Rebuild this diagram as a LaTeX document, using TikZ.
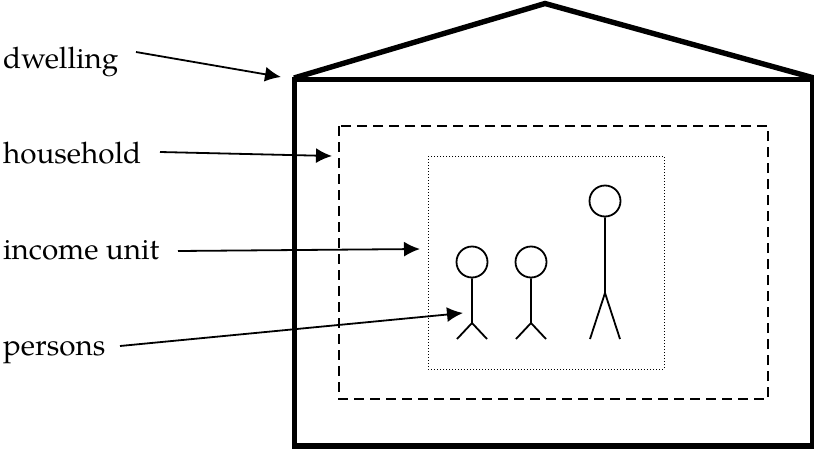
\documentclass[tikz,border=0pt]{standalone}
\usepackage{fontspec}
\setmainfont{TeX Gyre Pagella}
\usetikzlibrary{arrows.meta}
\tikzset{
  lbl/.style={anchor=base west,inner sep=0pt,font=\fontsize{29.6}{32}\selectfont},
  arr/.style={draw,line width=1.8pt,-{Latex[length=16pt,width=15pt]}},
  wall/.style={draw,line width=5.4pt,line cap=butt,line join=miter},
  fig/.style={draw,line width=1.8pt},
  head/.style={draw,circle,line width=1.8pt,minimum size=31pt,inner sep=0pt}
}
\begin{document}
\begin{tikzpicture}[x=1pt,y=-1pt]
\useasboundingbox (0,0) rectangle (814,450);
\begin{scope}
\clip (0,0) rectangle (814,450);
\draw[wall] (294.5,79.5) rectangle (813,446);
\draw[wall] (294,78) -- (545,3.5) -- (814,78);
\end{scope}
\draw[line width=1.6pt,dash pattern=on 10pt off 6pt] (339,126) rectangle (768,399);
\draw[line width=1pt,dash pattern=on 1.4pt off 1.6pt] (428,156) rectangle (664,369);
\node[head] (h1) at (472,262) {};
\node[head] (h2) at (531,262) {};
\node[head] (h3) at (605,201) {};
\draw[fig] (h1.south) -- (472,323) -- (457,339) (472,323) -- (487,339);
\draw[fig] (h2.south) -- (531,323) -- (516,339) (531,323) -- (546,339);
\draw[fig] (h3.south) -- (605,293) -- (590,339) (605,293) -- (620,339);
\node[lbl] (d) at (3,68) {dwelling};
\node[lbl] (ho) at (3,163) {household};
\node[lbl] (i) at (3,259) {income unit};
\node[lbl] (p) at (3,355) {persons};
\coordinate (da) at (281,77);
\coordinate (hoa) at (332,156);
\coordinate (ia) at (420,249);
\coordinate (pa) at (463,313);
\draw[arr] (136,52) -- (da);
\draw[arr] (160,152) -- (hoa);
\draw[arr] (178,251) -- (ia);
\draw[arr] (120,346) -- (pa);
\end{tikzpicture}
\end{document}
